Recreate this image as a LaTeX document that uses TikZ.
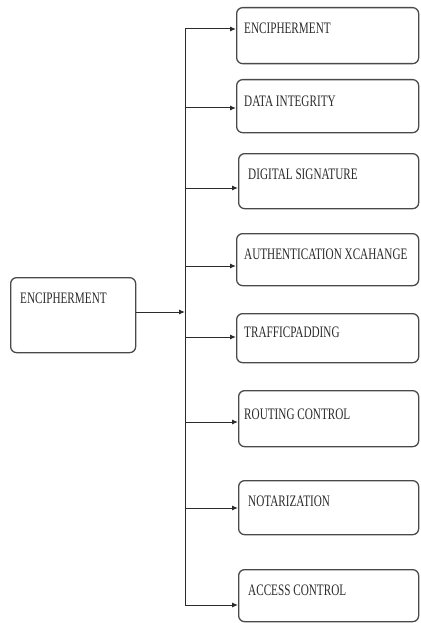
\documentclass[tikz,border=0pt]{standalone}
\usepackage{fontspec}
\newfontfamily\condserif[FakeStretch=0.70]{Liberation Serif}
\usetikzlibrary{arrows.meta}
\definecolor{ink}{HTML}{2B2B2B}
\definecolor{edge}{HTML}{4A4A4A}
\tikzset{
  box/.style={draw=edge, line width=1.3pt, rounded corners=6pt, anchor=north west, inner sep=0pt},
  lbl/.style={anchor=west, inner sep=0pt, text=ink, font=\condserif\fontsize{16pt}{18pt}\selectfont},
  arr/.style={draw=ink, line width=1pt, -{Latex[length=6pt,width=5pt]}},
  bus/.style={draw=ink, line width=1pt}
}
\begin{document}
\begin{tikzpicture}[x=1pt,y=-1pt]
\useasboundingbox (0,0) rectangle (420,623);
% left box
\node[box, minimum width=125pt, minimum height=75pt] (src) at (10,277) {};
\node[lbl] (srct) at ([xshift=10pt,yshift=-21pt]src.north west) {ENCIPHERMENT};
% right boxes
\node[box, minimum width=182pt, minimum height=56pt] (b1) at (236,7) {};
\node[box, minimum width=182pt, minimum height=53pt] (b2) at (236,79) {};
\node[box, minimum width=180pt, minimum height=55pt] (b3) at (238,153) {};
\node[box, minimum width=182pt, minimum height=52pt] (b4) at (236,233) {};
\node[box, minimum width=182pt, minimum height=49pt] (b5) at (236,313) {};
\node[box, minimum width=180pt, minimum height=56pt] (b6) at (238,390) {};
\node[box, minimum width=180pt, minimum height=54pt] (b7) at (238,480) {};
\node[box, minimum width=180pt, minimum height=52pt] (b8) at (238,569) {};
\node[lbl] (t1) at ([xshift=8pt,yshift=-21pt]b1.north west) {ENCIPHERMENT};
\node[lbl] (t2) at ([xshift=8pt,yshift=-22pt]b2.north west) {DATA INTEGRITY};
\node[lbl] (t3) at ([xshift=10pt,yshift=-21pt]b3.north west) {DIGITAL SIGNATURE};
\node[lbl] (t4) at ([xshift=8pt,yshift=-21pt]b4.north west) {AUTHENTICATION XCAHANGE};
\node[lbl] (t5) at ([xshift=8pt,yshift=-19pt]b5.north west) {TRAFFICPADDING};
\node[lbl] (t6) at ([xshift=6pt,yshift=-24pt]b6.north west) {ROUTING CONTROL};
\node[lbl] (t7) at ([xshift=10pt,yshift=-21pt]b7.north west) {NOTARIZATION};
\node[lbl] (t8) at ([xshift=10pt,yshift=-21pt]b8.north west) {ACCESS CONTROL};
% bus coordinates
\coordinate (c0) at (185,312);
\coordinate (c1) at (185,29);
\coordinate (c2) at (185,108);
\coordinate (c3) at (185,188);
\coordinate (c4) at (185,266);
\coordinate (c5) at (185,337);
\coordinate (c6) at (185,422);
\coordinate (c7) at (185,508);
\coordinate (c8) at (185,605);
\draw[bus] (c1) -- (c8);
\draw[arr] (src.east |- c0) -- (c0);
\draw[arr] (c1) -- (c1 -| b1.west);
\draw[arr] (c2) -- (c2 -| b2.west);
\draw[arr] (c3) -- (c3 -| b3.west);
\draw[arr] (c4) -- (c4 -| b4.west);
\draw[arr] (c5) -- (c5 -| b5.west);
\draw[arr] (c6) -- (c6 -| b6.west);
\draw[arr] (c7) -- (c7 -| b7.west);
\draw[arr] (c8) -- (c8 -| b8.west);
\end{tikzpicture}
\end{document}
